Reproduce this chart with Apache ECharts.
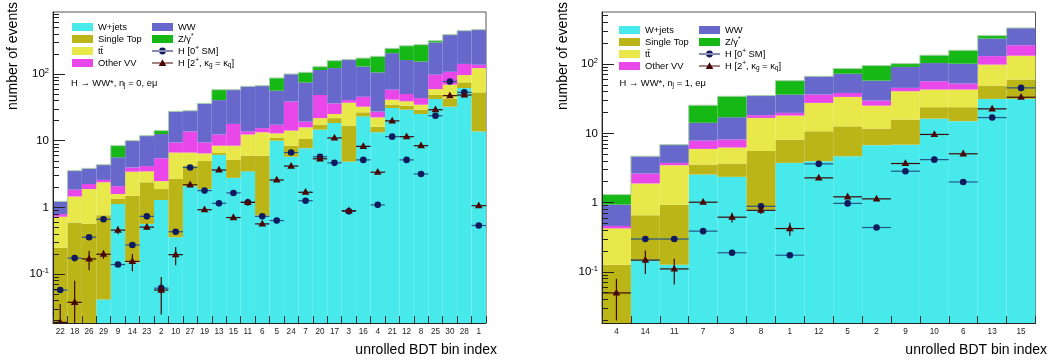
<!DOCTYPE html>
<html>
<head>
<meta charset="utf-8">
<script src="https://cdn.jsdelivr.net/npm/echarts@6/dist/echarts.min.js"></script>
<style>
  html, body { margin: 0; padding: 0; background: #fff; }
  #chart { width: 1054px; height: 362px; }
</style>
</head>
<body>
<div id="chart"></div>
<script>
// ---------------- 0-jet category (left panel) ----------------
const binsNj0 = ['22','18','26','29','9','14','23','2','10','27','19','13','15','11','6',
                 '5','24','7','20','17','3','16','4','21','12','8','25','30','28','1'];
const wjets0   = [0, 0, 0, 0.042, 1.13, 0.15, 0.57, 1.3, 0.36, 2.1, 1.9, 6.2, 2.8, 3.5, 0.76,
                  10.1, 5.8, 7.8, 14.8, 18.6, 4.9, 23.4, 13.5, 31.2, 29.4, 25.4, 42.6, 32.7, 62.2, 13.9];
const stop0    = [0.25, 0.60, 0.57, 0.73, 0.22, 1.35, 1.83, 0.6, 2.34, 2.2, 3.1, 0.4, 2.4, 2.5, 5.24,
                  1.0, 2.7, 2.9, 2.7, 3.4, 12.1, 3.5, 2.9, 3.8, 4.4, 4.0, 6.4, 9.9, 13.5, 39.7];
const ttbar0   = [0.48, 0.87, 1.33, 1.63, 0.25, 1.96, 1.1, 0.6, 4.0, 2.4, 1.5, 1.9, 3.3, 6.5, 7.5,
                  1.9, 5.8, 5.3, 4.5, 3.4, 20.5, 5.8, 6.2, 6.6, 5.5, 5.6, 11, 27.4, 21.8, 70.4];
const othervv0 = [0.07, 0.39, 0.36, 0.2, 0.5, 0.54, 0.7, 3.0, 2.8, 7.2, 3.0, 4.0, 9.5, 1.5, 2.1,
                  4.5, 24.7, 3.5, 26.9, 11.2, 3.5, 13.3, 4.9, 17.1, 11.3, 9.0, 38.6, 39, 45.5, 15];
const ww0      = [0.44, 1.72, 1.62, 1.8, 3.6, 6.1, 7.8, 7.2, 18.3, 14.5, 27.1, 28.5, 40.7, 52, 51.9,
                  39.3, 62, 56.2, 67.1, 87.4, 125, 85, 79.5, 149, 113, 111, 202, 284, 308, 328];
const zjets0   = [0, 0, 0, 0, 2.8, 0, 0, 1.6, 0, 0, 0, 17.7, 0, 0, 0,
                  31.2, 0, 31.3, 14, 36, 0, 44, 79, 37, 104, 123, 18, 0, 0, 0];
const hsm0     = [0.058, 0.175, 0.36, 0.67, 0.14, 0.275, 0.74, 0.062, 0.435, 4.0, 1.8, 1.16, 1.66, 1.2, 0.74,
                  0.64, 6.7, 1.27, 5.8, 4.7, 0.88, 5.2, 1.1, 11.6, 5.2, 3.2, 23.9, 78, 53.6, 0.54];
const hsmErr0  = [0, 0, 0, 0, 0, 0, 0, 0.012, 0, 0, 0, 0, 0, 0, 0,
                  0, 0, 0, 0, 0, 0, 0, 0, 0, 0, 0, 0, 0, 0, 0];
const h2p0     = [0.019, 0.038, 0.17, 0.20, 0.46, 0.156, 0.51, 0.058, 0.197, 2.2, 0.93, 3.67, 0.71, 1.2, 0.57,
                  2.6, 4.2, 1.7, 5.4, 11.1, 0.9, 8.3, 3.4, 20, 11.6, 8.5, 29.4, 47.8, 48.9, 1.07];
const h2pErr0  = [0.017, 0.042, 0.055, 0.03, 0.06, 0.045, 0.05, 0.033, 0.06, 0, 0, 0, 0, 0, 0,
                  0, 0, 0, 0, 0, 0, 0, 0, 0, 0, 0, 0, 0, 0, 0];

// ---------------- 1-jet category (right panel) ----------------
const binsNj1 = ['4','14','11','7','3','8','1','12','5','2','9','10','6','13','15'];
const wjets1   = [0, 0.152, 0.128, 2.56, 2.37, 0.80, 3.77, 3.98, 4.7, 6.8, 6.9, 16.4, 15.1, 31.6, 31.6];
const stop1    = [0.128, 0.51, 0.81, 1.01, 1.32, 4.8, 4.4, 6.8, 8.0, 5.0, 9.0, 7.6, 8.9, 17.6, 28.4];
const ttbar1   = [0.30, 1.24, 2.55, 2.43, 2.6, 11.2, 10, 16.9, 21.1, 13.5, 24.9, 19.2, 19.2, 49.7, 73];
const othervv1 = [0.035, 0.74, 0.28, 1.9, 1.9, 1.6, 1.7, 8.8, 4.7, 4.6, 4.8, 13.7, 9.4, 32.1, 55];
const ww1      = [0.48, 2.06, 3.13, 6.4, 9.0, 16.9, 16.6, 30.5, 34.5, 28.1, 46, 47.1, 49.4, 104, 146];
const zjets1   = [0.37, 0, 0, 11.3, 17.3, 0, 21.5, 0, 13.7, 37.7, 10.4, 31, 57, 24, 0];
const hsm1     = [null, 0.30, 0.30, 0.39, 0.19, 0.89, 0.175, 3.65, 0.98, 0.44, 2.86, 4.2, 2.0, 17, 45.6];
const hsmErr1  = [0, 0, 0, 0, 0, 0, 0, 0, 0, 0, 0, 0, 0, 0, 0];
const h2p1     = [0.05, 0.149, 0.111, 1.02, 0.62, 0.78, 0.425, 2.29, 1.22, 1.14, 3.69, 9.7, 5.1, 22.7, 33.4];
const h2pErr1  = [0.03, 0.055, 0.045, 0, 0.1, 0.09, 0.09, 0, 0, 0, 0, 0, 0, 0, 0];

// decade labels drawn on the y axes
const yDecades = [0.1, 1, 10, 100];

// ---------------- styling ----------------
const FONT = '"Liberation Sans", Arial, Helvetica, sans-serif';
const COLORS = {
  'W+jets': '#48e9ea',
  'Single Top': '#bbb517',
  'tt\u0304': '#e9e84a',
  'Other VV': '#e947e9',
  'WW': '#6868cc',
  'Z/\u03b3*': '#16b816'
};
const H0_NAME = 'H [0+ SM]';
const H2_NAME = 'H [2+, \u03bag = \u03baq]';
const H0_COLOR = '#101a5e', H0_LINE = '#24568a';
const H2_COLOR = '#4a0606', H2_LINE = '#3a0808';
const STACK_NAMES = ['W+jets', 'Single Top', 'tt\u0304', 'Other VV', 'WW', 'Z/\u03b3*'];

const panels = [
  {
    bins: binsNj0, layers: [wjets0, stop0, ttbar0, othervv0, ww0, zjets0],
    hsm: hsm0, hsmErr: hsmErr0, h2p: h2p0, h2pErr: h2pErr0,
    yMin: 0.0186, yMax: 860, nj: '0',
    grid: { left: 53, top: 12, width: 433, height: 311 },
    legendLeft: [72, 152], legendTop: 21, legendRow: 11.8,
    tagX: 71, yTitleX: 13, xTitleRight: 497
  },
  {
    bins: binsNj1, layers: [wjets1, stop1, ttbar1, othervv1, ww1, zjets1],
    hsm: hsm1, hsmErr: hsmErr1, h2p: h2p1, h2pErr: h2pErr1,
    yMin: 0.0184, yMax: 568, nj: '1',
    grid: { left: 602, top: 12, width: 433.5, height: 311 },
    legendLeft: [619, 699], legendTop: 24, legendRow: 11.8,
    tagX: 619.5, yTitleX: 563, xTitleRight: 1047
  }
];

function isDecade(v) {
  const l = Math.log10(v);
  return Math.abs(l - Math.round(l)) < 1e-6;
}

// cumulative [bin, low, high] boxes for the stacked backgrounds
function cumulate(layers) {
  const base = layers[0].map(() => 0);
  return layers.map(arr => arr.map((v, i) => {
    const lo = base[i];
    base[i] += v;
    return [i, lo, base[i]];
  }));
}

function binGeom(api, v) {
  const p0 = api.coord([0, v]);
  const p1 = api.coord([1, v]);
  return p1[0] - p0[0];
}

function stackSeries(name, rows, k, yMin) {
  return {
    type: 'custom', name, xAxisIndex: k, yAxisIndex: k, z: 2, clip: true,
    itemStyle: { color: COLORS[name] },
    encode: { x: 0, y: 2 },
    data: rows.filter(r => r[2] > r[1] && r[2] > yMin),
    renderItem(params, api) {
      const i = api.value(0), lo = api.value(1), hi = api.value(2);
      const bw = binGeom(api, hi);
      const top = api.coord([i, hi]);
      const bot = api.coord([i, Math.max(lo, yMin)]);
      return {
        type: 'rect',
        shape: { x: top[0] - bw / 2, y: top[1], width: bw, height: bot[1] - top[1] },
        style: { fill: COLORS[name] }
      };
    }
  };
}

// light step outline along the top of the stack
function outlineSeries(totals, k) {
  return {
    type: 'custom', xAxisIndex: k, yAxisIndex: k, z: 3, clip: true, silent: true,
    encode: { x: 0, y: 1 },
    data: totals.map((t, i) => [i, t, i > 0 ? totals[i - 1] : t]),
    renderItem(params, api) {
      const i = api.value(0), t = api.value(1), prev = api.value(2);
      const bw = binGeom(api, t);
      const c = api.coord([i, t]);
      const p = api.coord([i, prev]);
      const x0 = c[0] - bw / 2, x1 = c[0] + bw / 2;
      return {
        type: 'polyline',
        shape: { points: [[x0, p[1]], [x0, c[1]], [x1, c[1]]] },
        style: { stroke: '#a9cfa9', lineWidth: 1, fill: null }
      };
    }
  };
}

function pointSeries(name, vals, errs, k, yMin, kind) {
  const fill = kind === 'circle' ? H0_COLOR : H2_COLOR;
  const line = kind === 'circle' ? H0_LINE : H2_LINE;
  const data = [];
  vals.forEach((v, i) => { if (v != null) data.push([i, v, errs[i] || 0]); });
  return {
    type: 'custom', name, xAxisIndex: k, yAxisIndex: k, z: kind === 'circle' ? 5 : 6, clip: true,
    itemStyle: { color: fill },
    encode: { x: 0, y: 1 },
    data,
    renderItem(params, api) {
      const i = api.value(0), v = api.value(1), e = api.value(2);
      const bw = binGeom(api, v);
      const c = api.coord([i, v]);
      const children = [{
        type: 'line',
        shape: { x1: c[0] - bw / 2, y1: c[1], x2: c[0] + bw / 2, y2: c[1] },
        style: { stroke: line, lineWidth: 1.2 }
      }];
      if (e > 0) {
        const up = api.coord([i, v + e]);
        const dn = api.coord([i, Math.max(v - e, yMin * 0.5)]);
        children.push({
          type: 'line',
          shape: { x1: c[0], y1: up[1], x2: c[0], y2: dn[1] },
          style: { stroke: line, lineWidth: 1.2 }
        });
      }
      if (kind === 'circle') {
        children.push({ type: 'circle', shape: { cx: c[0], cy: c[1], r: 3.3 }, style: { fill } });
      } else {
        children.push({
          type: 'polygon',
          shape: { points: [[c[0], c[1] - 4.2], [c[0] + 3.8, c[1] + 2.6], [c[0] - 3.8, c[1] + 2.6]] },
          style: { fill }
        });
      }
      return { type: 'group', children };
    }
  };
}

// minor and major ticks of the log axes (2..9 inside each decade)
function yTickSeries(k, yMin, yMax) {
  const vals = [];
  for (let d = -3; d <= 3; d++) {
    for (let m = 1; m <= 9; m++) {
      const v = m * Math.pow(10, d);
      if (v >= yMin && v <= yMax) vals.push([0, v]);
    }
  }
  return {
    type: 'custom', xAxisIndex: k, yAxisIndex: k, z: 10, silent: true, clip: false,
    encode: { x: 0, y: 1 },
    data: vals,
    renderItem(params, api) {
      const v = api.value(1);
      const bw = binGeom(api, v);
      const c = api.coord([0, v]);
      const x = c[0] - bw / 2;
      const y = Math.round(c[1] - 0.5) + 0.5;
      const len = isDecade(v) ? 12 : 6;
      return { type: 'line', shape: { x1: x, y1: y, x2: x + len, y2: y }, style: { stroke: '#222', lineWidth: 1 } };
    }
  };
}

const RICH = {
  t:   { fontFamily: FONT, fontSize: 9.4, color: '#000', lineHeight: 12 },
  sup: { fontFamily: FONT, fontSize: 6.5, color: '#000', verticalAlign: 'top' },
  sub: { fontFamily: FONT, fontSize: 6.5, color: '#000', verticalAlign: 'bottom' }
};
const LEGEND_TEXT = {
  'Z/\u03b3*': '{t|Z/\u03b3}{sup|*}',
  [H0_NAME]: '{t|H [0}{sup|+}{t| SM]}',
  [H2_NAME]: '{t|H [2}{sup|+}{t|, \u03ba}{sub|g}{t| = \u03ba}{sub|q}{t|]}'
};
const ICON_H0 = 'path://M0,0h0.01v0.01h-0.01z M0,8h0.01v-0.01h-0.01z M0,3.55h21v0.9h-21z M13.9,4a3.4,3.4 0 1,0 -6.8,0a3.4,3.4 0 1,0 6.8,0z';
const ICON_H2 = 'path://M0,0h0.01v0.01h-0.01z M0,8h0.01v-0.01h-0.01z M0,3.55h21v0.9h-21z M10.5,0.2L14.3,6.9L6.7,6.9z';

function legendColumn(names, left, top, row) {
  return {
    show: true, orient: 'vertical', left, top, padding: 0, itemGap: 0,
    itemWidth: 21, itemHeight: 8, selectedMode: false,
    textStyle: { fontFamily: FONT, fontSize: 9.4, color: '#000', lineHeight: row, rich: RICH },
    formatter: n => LEGEND_TEXT[n] || '{t|' + n + '}',
    data: names.map(n => ({
      name: n,
      icon: n === H0_NAME ? ICON_H0 : n === H2_NAME ? ICON_H2 : 'rect'
    }))
  };
}

const series = [];
const legends = [];
const graphics = [];
panels.forEach((p, k) => {
  const rows = cumulate(p.layers);
  rows.forEach((r, j) => series.push(stackSeries(STACK_NAMES[j], r, k, p.yMin)));
  series.push(outlineSeries(rows[rows.length - 1].map(r => r[2]), k));
  series.push(pointSeries(H0_NAME, p.hsm, p.hsmErr, k, p.yMin, 'circle'));
  series.push(pointSeries(H2_NAME, p.h2p, p.h2pErr, k, p.yMin, 'triangle'));
  series.push(yTickSeries(k, p.yMin, p.yMax));

  legends.push(legendColumn(['W+jets', 'Single Top', 'tt\u0304', 'Other VV'], p.legendLeft[0], p.legendTop, p.legendRow));
  legends.push(legendColumn(['WW', 'Z/\u03b3*', H0_NAME, H2_NAME], p.legendLeft[1], p.legendTop, p.legendRow));

  graphics.push({
    type: 'text', x: p.tagX, y: 83,
    style: {
      text: '{t|H \u2192 WW*, n}{sub|j}{t| = ' + p.nj + ', e\u03bc}',
      rich: RICH, verticalAlign: 'middle', align: 'left'
    }
  });
  graphics.push({
    type: 'text', x: p.yTitleX, y: 56, rotation: Math.PI / 2,
    style: { text: 'number of events', fontFamily: FONT, fontSize: 14, fill: '#000', align: 'center', verticalAlign: 'middle' }
  });
  graphics.push({
    type: 'text', x: p.xTitleRight, y: 350,
    style: { text: 'unrolled BDT bin index', fontFamily: FONT, fontSize: 14, fill: '#000', align: 'right', verticalAlign: 'middle' }
  });
});

const option = {
  animation: false,
  backgroundColor: '#fff',
  textStyle: { fontFamily: FONT },
  tooltip: { show: false },
  grid: panels.map(p => Object.assign({
    show: true, borderColor: '#555', borderWidth: 1, backgroundColor: 'transparent',
    containLabel: false, outerBoundsMode: 'none'
  }, p.grid)),
  xAxis: panels.map((p, k) => ({
    type: 'category', gridIndex: k, data: p.bins, boundaryGap: true, z: 10,
    axisLine: { show: true, lineStyle: { color: '#222', width: 1 } },
    axisTick: { show: true, inside: true, length: 7, interval: 0, lineStyle: { color: '#333' } },
    axisLabel: { interval: 0, fontSize: 8.2, color: '#222', fontFamily: FONT, margin: 5 },
    splitLine: { show: false }
  })),
  yAxis: panels.map((p, k) => ({
    type: 'log', logBase: 10, gridIndex: k, min: p.yMin, max: p.yMax, z: 10,
    axisLine: { show: true, lineStyle: { color: '#222', width: 1 } },
    axisTick: { show: false },
    minorTick: { show: false },
    splitLine: { show: false },
    axisLabel: {
      margin: 4, showMinLabel: false, showMaxLabel: false,
      formatter: v => {
        if (!isDecade(v)) return '';
        const e = Math.round(Math.log10(v));
        if (!yDecades.some(d => Math.abs(Math.log10(d) - e) < 1e-6)) return '';
        if (e === 0) return '{b|1}';
        if (e === 1) return '{b|10}';
        return '{b|10}{s|' + e + '}';
      },
      rich: {
        b: { fontFamily: FONT, fontSize: 11.5, color: '#000', lineHeight: 14 },
        s: { fontFamily: FONT, fontSize: 7.5, color: '#000', verticalAlign: 'top' }
      }
    }
  })),
  legend: legends,
  graphic: graphics,
  series
};

const chart = echarts.init(document.getElementById('chart'), null, { renderer: 'canvas' });
chart.setOption(option);
</script>
</body>
</html>
